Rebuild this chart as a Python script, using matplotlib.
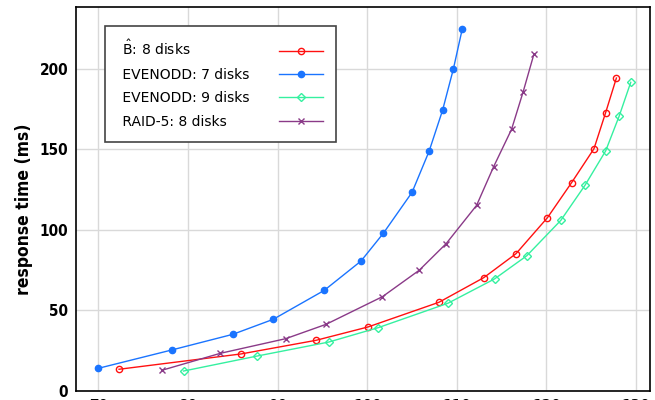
import matplotlib
matplotlib.use('Agg')
from matplotlib import pyplot as plt

plt.rcParams['mathtext.fontset'] = 'dejavusans'

# load values (x) and response times in ms (y)
x_ticks = [70, 80, 90, 100, 110, 120, 130]
y_ticks = [0, 50, 100, 150, 200]

bhat_x = [72.3, 85.9, 94.3, 100.1, 108.0, 113.0, 116.6, 120.1, 122.8, 125.3, 126.6, 127.8]
bhat_y = [13.5, 23.0, 31.5, 39.8, 55.1, 70.4, 85.3, 107.6, 129.4, 150.5, 172.9, 194.4]

eo7_x = [70.0, 78.2, 85.0, 89.5, 95.2, 99.3, 101.8, 105.0, 106.9, 108.4, 109.6, 110.6]
eo7_y = [14.1, 25.5, 35.2, 44.5, 62.5, 80.7, 98.0, 123.4, 148.9, 174.3, 199.8, 224.8]

eo9_x = [79.5, 87.7, 95.7, 101.2, 109.0, 114.2, 117.8, 121.6, 124.3, 126.6, 128.1, 129.4]
eo9_y = [12.4, 21.7, 30.4, 39.3, 54.5, 69.6, 84.0, 106.0, 127.8, 149.1, 170.6, 191.7]

raid_x = [77.1, 83.6, 90.9, 95.4, 101.7, 105.8, 108.8, 112.2, 114.1, 116.1, 117.4, 118.6]
raid_y = [12.9, 23.4, 32.5, 41.4, 58.6, 75.0, 91.5, 115.3, 139.3, 162.5, 185.9, 209.3]

fig = plt.figure(figsize=(6.55, 4.0), dpi=100)
ax = fig.add_axes([76 / 655, 9 / 400, 574 / 655, 384 / 400])

ax.plot(bhat_x, bhat_y, color='#ff1010', lw=1.0, marker='o', ms=4.5,
        mfc='none', mew=1.0, label=r' $\hat{\mathrm{B}}$: 8 disks')
ax.plot(eo7_x, eo7_y, color='#1a74ff', lw=1.0, marker='o', ms=4.5,
        label=' EVENODD: 7 disks')
ax.plot(eo9_x, eo9_y, color='#35f0a0', lw=1.0, marker='D', ms=4,
        mfc='none', mew=1.0, label=' EVENODD: 9 disks')
ax.plot(raid_x, raid_y, color='#8a3a88', lw=1.0, marker='x', ms=5,
        mew=1.0, label=' RAID-5: 8 disks')

ax.set_xlim(67.5, 131.55)
ax.set_ylim(0, 238.5)
ax.set_xticks(x_ticks)
ax.set_yticks(y_ticks)
ax.grid(True, color='#d9d9d9', lw=1.0)
ax.set_axisbelow(True)
ax.tick_params(length=0, pad=5.5)
ax.tick_params(axis='x', pad=6.0)
for lab in ax.get_xticklabels() + ax.get_yticklabels():
    lab.set_family('DejaVu Sans')
    lab.set_stretch('condensed')
    lab.set_fontweight('bold')
    lab.set_fontsize(11)
for s in ax.spines.values():
    s.set_linewidth(1.2)

ax.set_ylabel('response time (ms)', family='DejaVu Sans', fontstretch='condensed',
              fontweight='bold', fontsize=12.5)
ax.yaxis.set_label_coords(-0.075, 0.474)

leg = ax.legend(loc='upper left', bbox_to_anchor=(0.0505, 0.9505), borderaxespad=0,
                markerfirst=False, fancybox=False, fontsize=10, handlelength=3.15,
                handletextpad=2.12, labelspacing=0.68, borderpad=0.95,
                edgecolor='#444444', framealpha=1.0)
leg.get_frame().set_linewidth(1.2)

# left-align label texts so the line samples sit in one column on the right
renderer = fig.canvas.get_renderer()
widths = [t.get_window_extent(renderer).width for t in leg.get_texts()]
rows = leg._legend_handle_box.get_children()[0].get_children()
for row, w in zip(rows, widths):
    row.sep += (max(widths) - w) * 72 / fig.dpi

fig.savefig('out.png', dpi=100)
